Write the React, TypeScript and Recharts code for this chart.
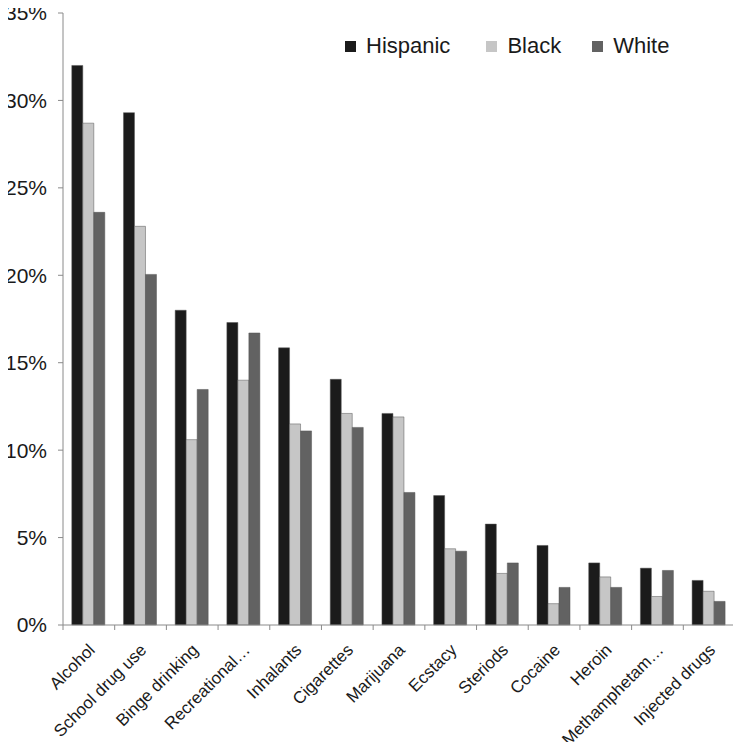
import React from "react";
import { BarChart, Bar, XAxis, YAxis } from "recharts";

const categories = [
  "Alcohol",
  "School drug use",
  "Binge drinking",
  "Recreational…",
  "Inhalants",
  "Cigarettes",
  "Marijuana",
  "Ecstacy",
  "Steriods",
  "Cocaine",
  "Heroin",
  "Methamphetam…",
  "Injected drugs",
];
const hispanic = [32.0, 29.3, 18.0, 17.3, 15.85, 14.05, 12.1, 7.4, 5.77, 4.55, 3.55, 3.25, 2.55];
const black = [28.7, 22.8, 10.6, 14.0, 11.5, 12.1, 11.9, 4.36, 2.95, 1.22, 2.75, 1.63, 1.93];
const white = [23.6, 20.05, 13.47, 16.7, 11.1, 11.3, 7.58, 4.22, 3.55, 2.15, 2.15, 3.12, 1.35];
const yTicks = [0, 5, 10, 15, 20, 25, 30, 35];

const seriesNames = ["Hispanic", "Black", "White"];
const colors = ["#1b1b1b", "#c6c6c6", "#626262"];

const data = categories.map((c, i) => ({
  name: c,
  Hispanic: hispanic[i],
  Black: black[i],
  White: white[i],
}));

const FONT = "'Liberation Sans', Arial, sans-serif";

const XTick = (props: any) => {
  const { x, y, payload, index, visibleTicksCount } = props;
  const half = payload && payload.offset ? payload.offset : 25.85;
  const last = index === (visibleTicksCount ?? categories.length) - 1;
  const tx = x + 7;
  const ty = y + 18;
  return (
    <g>
      <line x1={x - half} y1={y - 8} x2={x - half} y2={y - 3} stroke="#8a8a8a" strokeWidth={1} />
      {last && (
        <line x1={x + half} y1={y - 8} x2={x + half} y2={y - 3} stroke="#8a8a8a" strokeWidth={1} />
      )}
      <text
        x={tx}
        y={ty}
        textAnchor="end"
        transform={`rotate(-45, ${tx}, ${ty})`}
        fontSize={17}
        fontFamily={FONT}
        fill="#1a1a1a"
      >
        {payload.value}
      </text>
    </g>
  );
};

const Legend3 = () => (
  <div
    style={{
      position: "absolute",
      left: 345,
      top: 33,
      display: "flex",
      alignItems: "center",
      fontFamily: FONT,
      fontSize: 22,
      color: "#1a1a1a",
    }}
  >
    {seriesNames.map((n, i) => (
      <div key={n} style={{ display: "flex", alignItems: "center", marginRight: i === 0 ? 36 : 31 }}>
        <div style={{ width: 11, height: 11, background: colors[i], marginRight: 10 }} />
        <span>{n}</span>
      </div>
    ))}
  </div>
);

export default function App() {
  return (
    <div style={{ position: "relative", width: 741, height: 750, margin: -8 }}>
      <BarChart
        width={741}
        height={750}
        data={data}
        margin={{ top: 13, right: 6, bottom: 0, left: 8 }}
        barCategoryGap="17%"
        barGap={0}
      >
        <XAxis
          dataKey="name"
          interval={0}
          height={125}
          axisLine={{ stroke: "#8a8a8a" }}
          tickLine={false}
          tick={<XTick />}
        />
        <YAxis
          domain={[0, 35]}
          ticks={yTicks}
          width={55}
          interval={0}
          tickFormatter={(v: number) => `${v}%`}
          axisLine={{ stroke: "#8a8a8a" }}
          tickLine={{ stroke: "#8a8a8a" }}
          tickSize={5}
          tickMargin={11}
          tick={{ fontSize: 21, fontFamily: FONT, fill: "#1a1a1a" }}
        />
        {seriesNames.map((n, i) => (
          <Bar key={n} dataKey={n} fill={colors[i]} stroke="#555" strokeWidth={0.5} isAnimationActive={false} />
        ))}
      </BarChart>
      <Legend3 />
    </div>
  );
}
